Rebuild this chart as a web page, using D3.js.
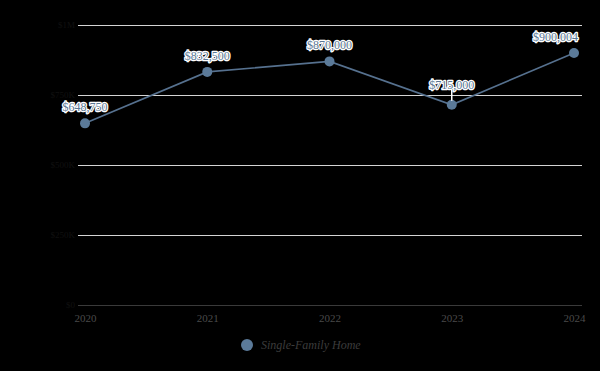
<!DOCTYPE html>
<html>
<head>
<meta charset="utf-8">
<script src="https://cdn.jsdelivr.net/npm/d3@7"></script>
<style>
  html, body { margin: 0; padding: 0; background: #000; }
  svg { display: block; }
</style>
</head>
<body>
<svg width="600" height="371"></svg>
<script>
// 数据
const years = ["2020", "2021", "2022", "2023", "2024"];
const prices = [648750, 832500, 870000, 715000, 900004];
const yTicks = [0, 250000, 500000, 750000, 1000000];
const seriesName = "Single-Family Home";

const svg = d3.select("svg");
const plotLeft = 78, plotRight = 582, plotTop = 25, plotBottom = 305;
const lineColor = "#56718f";
const dotColor = "#5b7a99";

const x = d3.scalePoint().domain(years).range([85, 574]);
const y = d3.scaleLinear().domain([0, 1000000]).range([plotBottom, plotTop]);

// 网格线
svg.append("g")
  .selectAll("line")
  .data(yTicks.slice(1))
  .enter()
  .append("line")
  .attr("x1", plotLeft)
  .attr("x2", plotRight)
  .attr("y1", (d) => y(d) + 0.5)
  .attr("y2", (d) => y(d) + 0.5)
  .attr("stroke", "#d4d4d4")
  .attr("stroke-width", 1);

// y 轴（文字几乎看不见）
const yAxis = svg.append("g")
  .attr("transform", `translate(${plotLeft},0)`)
  .call(d3.axisLeft(y).tickValues(yTicks).tickSize(0).tickPadding(3)
    .tickFormat((d) => d === 0 ? "$0" : d >= 1000000 ? "$1M" : `$${d / 1000}K`));
yAxis.select(".domain").remove();
yAxis.selectAll("text")
  .attr("fill", "#101010")
  .style("font-family", "Liberation Sans Narrow")
  .style("font-size", "9px");

// x 轴
const xAxis = svg.append("g")
  .attr("transform", `translate(0,${plotBottom})`)
  .call(d3.axisBottom(x).tickSize(0).tickPadding(9));
xAxis.select(".domain").remove();
xAxis.selectAll("text")
  .attr("fill", "#4a4a4a")
  .style("font-family", "Liberation Serif")
  .style("font-size", "11px");
svg.append("line")
  .attr("x1", plotLeft).attr("x2", plotRight)
  .attr("y1", plotBottom + 0.5).attr("y2", plotBottom + 0.5)
  .attr("stroke", "#3a3a3a");

// 折线
const line = d3.line()
  .x((d, i) => x(years[i]))
  .y((d) => y(d));

svg.append("path")
  .datum(prices)
  .attr("d", line)
  .attr("fill", "none")
  .attr("stroke", lineColor)
  .attr("stroke-width", 1.6);

svg.selectAll(".dot")
  .data(prices)
  .enter()
  .append("circle")
  .attr("class", "dot")
  .attr("cx", (d, i) => x(years[i]))
  .attr("cy", (d) => y(d))
  .attr("r", 5)
  .attr("fill", dotColor);

// 数据标签
const fmt = d3.format("$,");
const lift = (i) => (i === 3 ? 16 : 12);

// 2023 的标签有一根引线
svg.append("line")
  .attr("x1", x(years[3])).attr("x2", x(years[3]))
  .attr("y1", y(prices[3]) - lift(3) + 1)
  .attr("y2", y(prices[3]) - 4)
  .attr("stroke", "#fff")
  .attr("stroke-width", 1.5);

const labels = svg.selectAll(".lbl")
  .data(prices)
  .enter()
  .append("text")
  .attr("class", "lbl")
  .attr("text-anchor", "middle")
  .attr("y", (d, i) => y(d) - lift(i))
  .style("font-family", "Liberation Sans Narrow")
  .style("font-size", "12px")
  .attr("fill", "#5a7896")
  .attr("stroke", "#fff")
  .attr("stroke-width", 2.5)
  .attr("stroke-linejoin", "round")
  .attr("paint-order", "stroke")
  .text((d) => fmt(d));

labels.attr("x", function (d, i) {
  const w = this.getComputedTextLength();
  return Math.min(x(years[i]), 578 - w / 2);
});

// 图例
const legend = svg.append("g").attr("transform", "translate(247,345)");
legend.append("circle").attr("r", 6).attr("fill", dotColor);
legend.append("text")
  .attr("x", 14)
  .attr("y", 4)
  .attr("fill", "#3c3c3c")
  .style("font-family", "Liberation Serif")
  .style("font-style", "italic")
  .style("font-size", "12px")
  .text(seriesName);
</script>
</body>
</html>
